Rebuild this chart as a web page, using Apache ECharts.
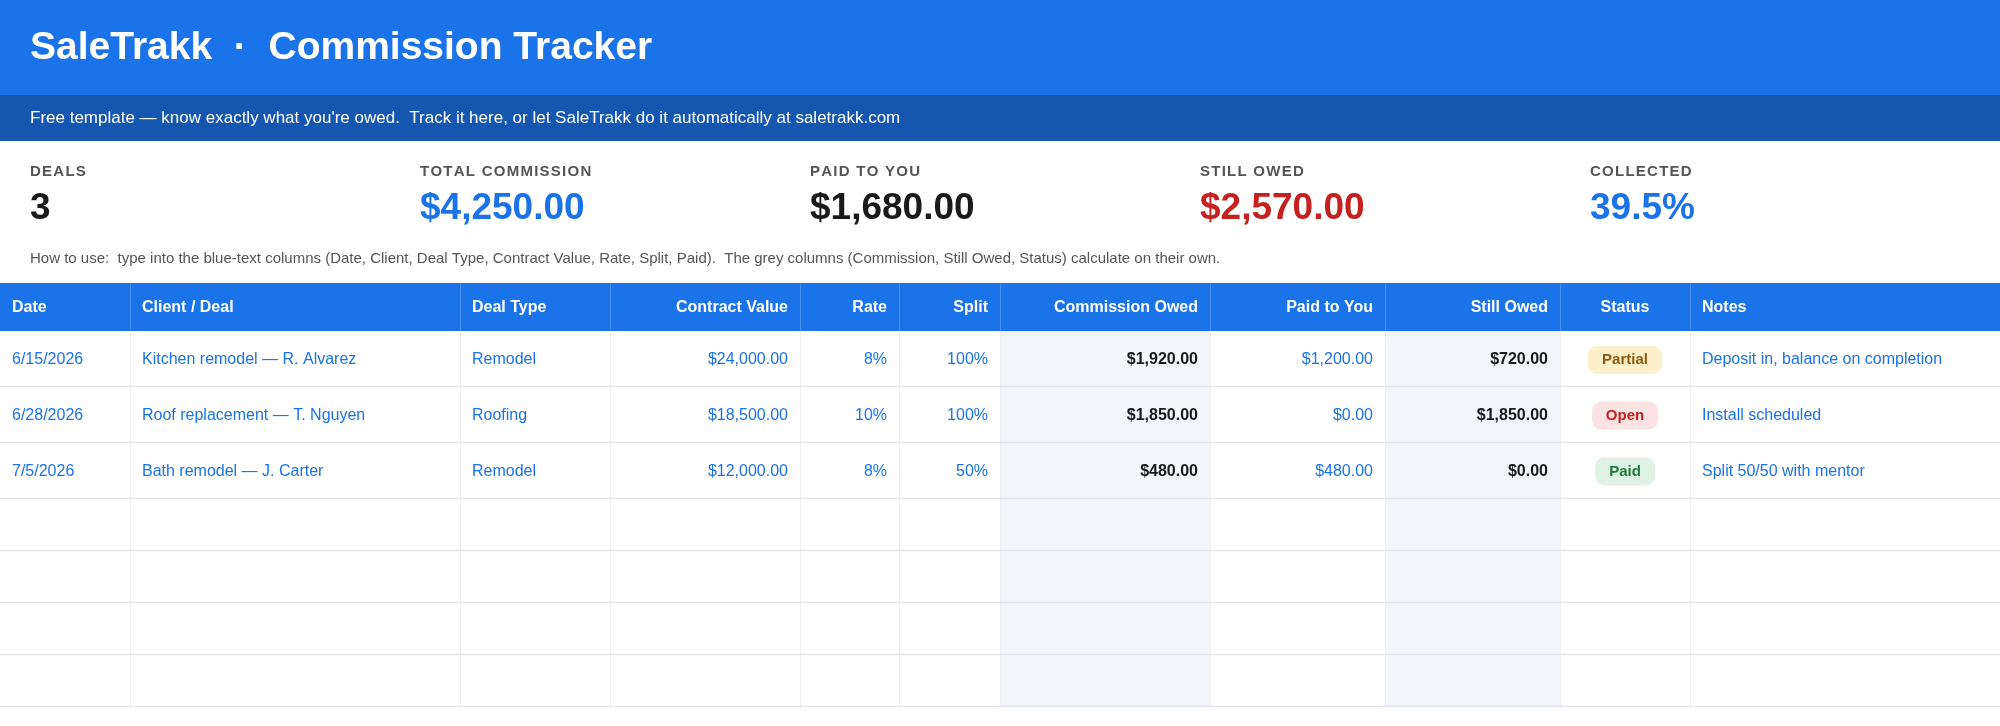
<!DOCTYPE html>
<html><head><meta charset="utf-8">
<script src="https://cdn.jsdelivr.net/npm/echarts@6/dist/echarts.min.js"></script>
<style>html,body{margin:0;padding:0;background:#fff}#c{width:2000px;height:726px}</style>
</head><body><div id="c"></div>
<script>
const title = "SaleTrakk  ·  Commission Tracker";
const subtitle = "Free template — know exactly what you're owed.  Track it here, or let SaleTrakk do it automatically at saletrakk.com";
const kpiLabels = ["DEALS","TOTAL COMMISSION","PAID TO YOU","STILL OWED","COLLECTED"];
const kpiValues = ["3","$4,250.00","$1,680.00","$2,570.00","39.5%"];
const howTo = "How to use:  type into the blue-text columns (Date, Client, Deal Type, Contract Value, Rate, Split, Paid).  The grey columns (Commission, Still Owed, Status) calculate on their own.";
const headers = ["Date","Client / Deal","Deal Type","Contract Value","Rate","Split","Commission Owed","Paid to You","Still Owed","Status","Notes"];
const dates = ["6/15/2026","6/28/2026","7/5/2026"];
const clients = ["Kitchen remodel — R. Alvarez","Roof replacement — T. Nguyen","Bath remodel — J. Carter"];
const dealTypes = ["Remodel","Roofing","Remodel"];
const contractValues = ["$24,000.00","$18,500.00","$12,000.00"];
const rates = ["8%","10%","8%"];
const splits = ["100%","100%","50%"];
const commissionOwed = ["$1,920.00","$1,850.00","$480.00"];
const paidToYou = ["$1,200.00","$0.00","$480.00"];
const stillOwed = ["$720.00","$1,850.00","$0.00"];
const statuses = ["Partial","Open","Paid"];
const notes = ["Deposit in, balance on completion","Install scheduled","Split 50/50 with mentor"];

const colX = [0,130,460,610,800,899,1000,1210,1385,1560,1690,2000];
const align = ["left","left","left","right","right","right","right","right","right","center","left"];
const greyCols = [6,8];
const blue = "#1A73E8", dark = "#1a1a1a";
const statusStyle = {Partial:{bg:"#FDF0C8",fg:"#8A5A12",w:74},Open:{bg:"#FCE3E3",fg:"#C5221F",w:66},Paid:{bg:"#DFF3E5",fg:"#1E7A3C",w:60}};
const font = "Liberation Sans, Arial, sans-serif";
const rowY = [331,386,442,498,550,602,654,706];

const g = [];
g.push({type:'rect',shape:{x:0,y:0,width:2000,height:95},style:{fill:'#1A73E8'}});
g.push({type:'rect',shape:{x:0,y:95,width:2000,height:46},style:{fill:'#1557B0'}});
g.push({type:'text',x:30,y:48,style:{text:title,fill:'#fff',font:'bold 39px '+font,verticalAlign:'middle'}});
g.push({type:'text',x:30,y:118,style:{text:subtitle,fill:'#fff',font:'17px '+font,verticalAlign:'middle'}});
const kx=[30,420,810,1200,1590];
const kc=[dark,blue,dark,'#C5221F',blue];
kpiLabels.forEach((l,i)=>{
  g.push({type:'text',x:kx[i],y:172,style:{text:l.split('').join('\u200A'),fill:'#555',font:'bold 15px '+font,verticalAlign:'middle'}});
  g.push({type:'text',x:kx[i],y:209,style:{text:kpiValues[i],fill:kc[i],font:'bold 37px '+font,verticalAlign:'middle'}});
});
g.push({type:'text',x:30,y:259,style:{text:howTo,fill:'#555',font:'15px '+font,verticalAlign:'middle'}});
g.push({type:'rect',shape:{x:0,y:283,width:2000,height:48},style:{fill:'#1A73E8'}});
greyCols.forEach(c=>g.push({type:'rect',shape:{x:colX[c],y:331,width:colX[c+1]-colX[c],height:375},style:{fill:'#F2F5FA'}}));
for(let i=1;i<colX.length-1;i++){
  g.push({type:'line',shape:{x1:colX[i]+0.5,y1:283,x2:colX[i]+0.5,y2:331},style:{stroke:'#4A8FEC',lineWidth:1}});
  g.push({type:'line',shape:{x1:colX[i]+0.5,y1:331,x2:colX[i]+0.5,y2:706},style:{stroke:'#EEF0F3',lineWidth:1}});
}
for(let r=1;r<rowY.length;r++) g.push({type:'line',shape:{x1:0,y1:rowY[r]+0.5,x2:2000,y2:rowY[r]+0.5},style:{stroke:'#E2E5E9',lineWidth:1.5}});
function tx(c,y,text,fill,bold){
  const a=align[c]; const pad=12;
  const x = a==='left'?colX[c]+pad: a==='right'?colX[c+1]-pad:(colX[c]+colX[c+1])/2;
  g.push({type:'text',x:x,y:y,style:{text:text,fill:fill,font:(bold?'bold ':'')+'16px '+font,align:a,verticalAlign:'middle'}});
}
headers.forEach((h,c)=>tx(c,308,h,'#fff',true));
const cols=[dates,clients,dealTypes,contractValues,rates,splits,commissionOwed,paidToYou,stillOwed,null,notes];
for(let r=0;r<dates.length;r++){
  const y=(rowY[r]+rowY[r+1])/2+1.5;
  cols.forEach((arr,c)=>{
    if(c===9){
      const s=statusStyle[statuses[r]]; const cx=(colX[9]+colX[10])/2;
      g.push({type:'rect',shape:{x:cx-s.w/2,y:y-14,width:s.w,height:28,r:9},style:{fill:s.bg}});
      g.push({type:'text',x:cx,y:y,style:{text:statuses[r],fill:s.fg,font:'bold 15px '+font,align:'center',verticalAlign:'middle'}});
    } else {
      const bold = c===6||c===8;
      tx(c,y,arr[r],bold?dark:blue,bold);
    }
  });
}
const chart=echarts.init(document.getElementById('c'),null,{renderer:'canvas'});
chart.setOption({animation:false,graphic:{elements:g}});
</script></body></html>
